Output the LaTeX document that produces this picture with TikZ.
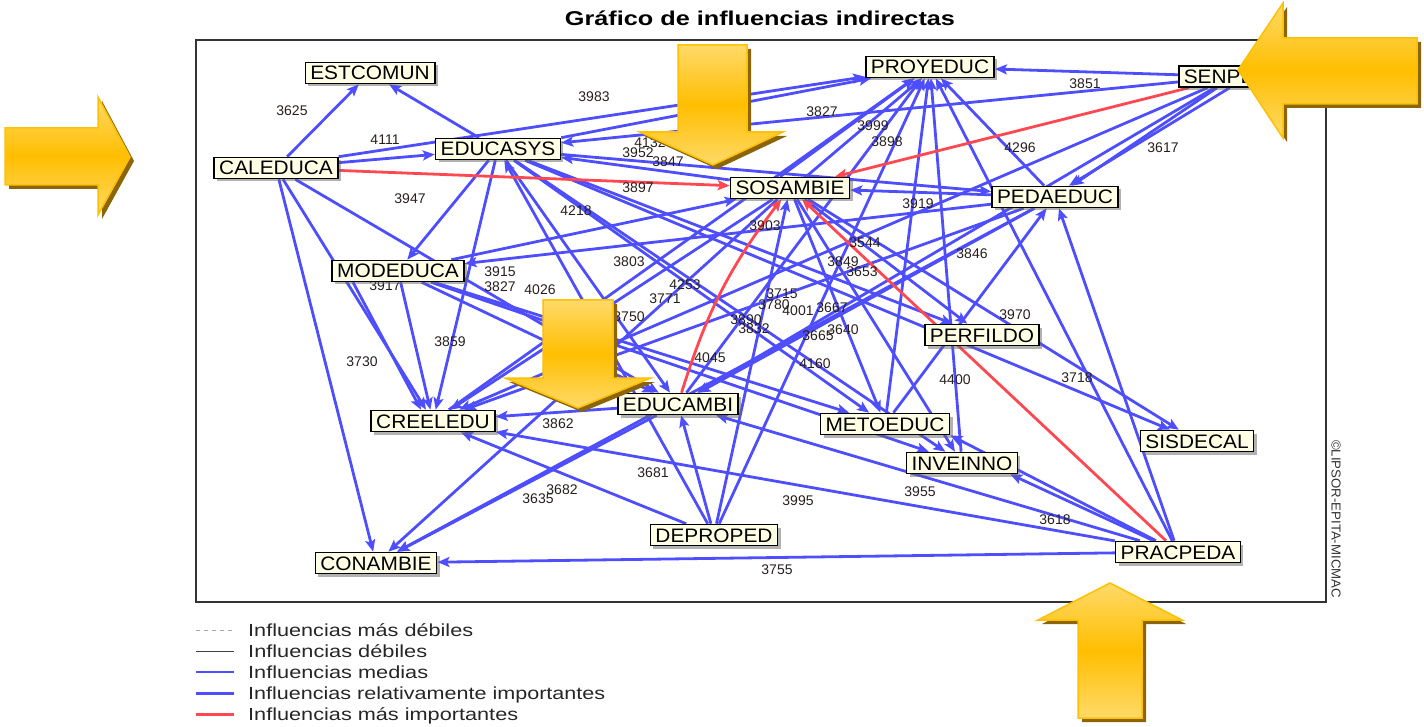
\documentclass[tikz,border=0pt]{standalone}
\usepackage{fontspec}
\setmainfont{Liberation Sans}
\usetikzlibrary{arrows.meta,shadows,calc}
\definecolor{eblue}{RGB}{78,78,255}
\definecolor{ered}{RGB}{255,72,82}
\definecolor{ncream}{RGB}{255,255,230}
\definecolor{arrlight}{RGB}{255,218,105}
\definecolor{arrmid}{RGB}{255,190,0}
\definecolor{arredge}{RGB}{255,192,0}
\definecolor{arrshadow}{RGB}{140,100,10}
\definecolor{labcol}{RGB}{40,30,30}
\newcommand\nodetxt[1]{\scalebox{1.07}[1]{#1}}
\pgfdeclarelayer{back}
\pgfdeclarelayer{front}
\pgfsetlayers{back,main,front}
\tikzset{
 var/.style={draw=black, line width=1.6pt, fill=ncream, font=\fontsize{19.5}{20}\selectfont,
   inner xsep=5pt, inner ysep=3.5pt, text height=14pt, text depth=0pt,
   drop shadow={shadow xshift=3pt, shadow yshift=-3pt, fill=black!60}},
 lab/.style={font=\fontsize{14}{14}\selectfont, inner sep=0pt, text=labcol},
 inf/.style={draw=eblue, line width=2.8pt, -{Stealth[length=12pt,width=10pt,inset=2.5pt]}},
 strong/.style={inf, draw=ered},
 bigarrow/.style={top color=arrlight, bottom color=arrlight, middle color=arrmid, draw=arredge, line width=1.5pt, line join=miter},
 bigshadow/.style={fill=arrshadow, shift={(4,4)}},
 legtxt/.style={font=\fontsize{17.5}{18}\selectfont, text=black!85, anchor=base west, inner sep=0pt}
}
\begin{document}
\begin{tikzpicture}[x=1pt,y=-1pt]
\useasboundingbox (0,0) rectangle (1424,727);

% title and frame
\node[font=\fontsize{20}{22}\selectfont\bfseries, anchor=base, inner sep=0pt] (title) at (760,26)
  {\resizebox{390pt}{\height}{Gráfico de influencias indirectas}};
\draw[line width=1.5pt, black!80] (196,40) rectangle (1326,602);
\node[font=\fontsize{13}{13}\selectfont, rotate=-90, inner sep=0pt, text=black!80] (copy) at (1336,519)
  {\resizebox{158pt}{\height}{©LIPSOR-EPITA-MICMAC}};

% variables
\node[var] (est) at (370,73) {\nodetxt{ESTCOMUN}};
\node[var] (cal) at (276,168) {\nodetxt{CALEDUCA}};
\node[var] (esy) at (498,149) {\nodetxt{EDUCASYS}};
\node[var] (pro) at (930,67) {\nodetxt{PROYEDUC}};
\node[var] (sos) at (790,188) {\nodetxt{SOSAMBIE}};
\node[var, anchor=west] (sen) at (1178,76.5) {\nodetxt{SENPEDA}};
\node[var] (ped) at (1055,197) {\nodetxt{PEDAEDUC}};
\node[var] (mod) at (398,271) {\nodetxt{MODEDUCA}};
\node[var] (cre) at (433,421) {\nodetxt{CREELEDU}};
\node[var] (eca) at (678,404) {\nodetxt{EDUCAMBI}};
\node[var] (met) at (885,424) {\nodetxt{METOEDUC}};
\node[var] (per) at (982,335) {\nodetxt{PERFILDO}};
\node[var] (inv) at (962,463) {\nodetxt{INVEINNO}};
\node[var] (sis) at (1197,441) {\nodetxt{SISDECAL}};
\node[var] (dep) at (714,535) {\nodetxt{DEPROPED}};
\node[var] (pra) at (1178,552) {\nodetxt{PRACPEDA}};
\node[var] (con) at (376,563) {\nodetxt{CONAMBIE}};

\begin{pgfonlayer}{back}
% influences
\draw[inf] (cal) -- (est);
\draw[inf] (esy) -- (est);
\draw[inf] (cal) -- (esy);
\draw[inf] (cal.north east) -- (pro);
\draw[inf] (cal) -- (con);
\draw[inf] (cal) -- (cre);
\draw[inf] (cal) -- (eca);
\draw[inf] (esy.north east) -- (pro);
\draw[inf] (sen) -- (esy);
\draw[inf] (sen) -- (pro);
\draw[inf] (sen) -- (ped);
\draw[inf] ([xshift=-4pt]sen.south) -- ([xshift=14pt]ped.north);
\draw[inf] (sen) -- (cre);
\draw[inf] (sen) -- (eca);
\draw[inf] (sos) -- (esy);
\draw[inf] (esy) -- (ped);
\draw[inf] ([xshift=-10pt]sos.north) -- (pro);
\draw[inf] ([xshift=16pt]sos.north) -- ([xshift=-8pt]pro.south);
\draw[inf] (ped) -- (pro);
\draw[inf] (ped) -- (sos);
\draw[inf] (met) -- (pro);
\draw[inf] (eca) -- (pro);
\draw[inf] (pra) -- (pro);
\draw[inf] (pra) -- (ped);
\draw[inf] (pra) -- (con);
\draw[inf] (pra) -- ([xshift=-8pt]inv.south east);
\draw[inf] (pra) -- (cre);
\draw[inf] (pra) -- (eca);
\draw[inf] (pra) -- (met.south east);
\draw[inf] (esy) -- (sis);
\draw[inf] (sos) -- (sis);
\draw[inf] (dep) -- (esy);
\draw[inf] (dep) -- (eca);
\draw[inf] (dep) -- (sos);
\draw[inf] (dep) -- (pro);
\draw[inf] (dep) -- (cre);
\draw[inf] (eca) -- (cre);
\draw[inf] (eca) -- (con);
\draw[inf] (sos) -- (con);
\draw[inf] (ped) -- (con);
\draw[inf] (ped) -- (cre);
\draw[inf] (sos) -- (cre);
\draw[inf] (ped) -- (eca);
\draw[inf] (mod) -- (cre);
\draw[inf] ([xshift=-45pt]mod.south) -- ([xshift=-12pt]cre.north);
\draw[inf] (mod) -- (sos);
\draw[inf] (mod) -- (eca);
\draw[inf] (esy) -- (mod);
\draw[inf] (esy) -- (cre);
\draw[inf] (esy) -- (eca);
\draw[inf] (esy) -- (met);
\draw[inf] (esy) -- (inv);
\draw[inf] (esy) -- (per);
\draw[inf] (sos) -- (per);
\draw[inf] (sos) -- (inv);
\draw[inf] (sos) -- (met);
\draw[inf] (met) -- (ped);
\draw[inf] (inv) -- (pro);
\draw[inf] (cre) -- (pro);
\draw[inf] (mod) -- (met);
\draw[inf] (mod) -- (inv);
\draw[inf] (ped) -- (mod);
% most important influences
\draw[strong] (cal) -- (sos);
\draw[strong] (sen) -- (sos);
\draw[strong] (pra) -- (sos);
\draw[strong] (eca) to[bend left=10] (sos);
% values
\foreach \t/\x/\y [count=\i] in {3625/292/111, 4111/385/140, 3983/594/97, 3827/822/112,
  3999/873/126, 3898/887/142, 4132/650/143, 3952/638/153, 3847/668/162, 3897/638/188,
  4296/1020/148, 3617/1163/148, 3851/1085/84, 3947/410/199, 4218/576/211, 3919/918/204,
  3903/765/226, 3544/865/243, 3846/972/254, 3849/843/262, 3653/862/272, 3803/629/262,
  3915/500/272, 3827/500/287, 4026/540/290, 3917/385/286, 4253/685/285, 3771/665/299,
  3750/629/317, 3715/782/294, 3780/774/305, 4001/798/311, 3667/832/308, 3890/746/320,
  3832/754/329, 3665/818/336, 3640/843/330, 4045/710/358, 4160/815/364, 3970/1015/315,
  4400/955/380, 3718/1077/378, 3730/362/362, 3859/450/342, 3862/558/424, 3681/653/473,
  3635/538/499, 3682/562/490, 3995/798/501, 3955/920/492, 3618/1055/520, 3755/777/570}
  \node[lab] (v\i) at (\x,\y) {\t};
\end{pgfonlayer}

% legend
\coordinate (l1a) at (196,630); \coordinate (l1b) at (234,630);
\coordinate (l2a) at (196,651); \coordinate (l2b) at (234,651);
\coordinate (l3a) at (196,672); \coordinate (l3b) at (234,672);
\coordinate (l4a) at (196,693); \coordinate (l4b) at (234,693);
\coordinate (l5a) at (196,714); \coordinate (l5b) at (234,714);
\draw[black!35, line width=1pt, dash pattern=on 4pt off 4pt] (l1a) -- (l1b);
\draw[black!75, line width=1pt] (l2a) -- (l2b);
\draw[eblue, line width=1.3pt] (l3a) -- (l3b);
\draw[eblue, line width=3pt] (l4a) -- (l4b);
\draw[ered, line width=3pt] (l5a) -- (l5b);
\node[legtxt] (t1) at (248,636) {\resizebox{225pt}{\height}{Influencias más débiles}};
\node[legtxt] (t2) at (248,657) {\resizebox{179pt}{\height}{Influencias débiles}};
\node[legtxt] (t3) at (248,678) {\resizebox{180pt}{\height}{Influencias medias}};
\node[legtxt] (t4) at (248,699) {\resizebox{357pt}{\height}{Influencias relativamente importantes}};
\node[legtxt] (t5) at (248,720) {\resizebox{270pt}{\height}{Influencias más importantes}};

% highlight arrows
\begin{pgfonlayer}{front}
\fill[bigshadow] (5,128) -- (98,128) -- (98,97) -- (130,157) -- (98,215) -- (98,185) -- (5,185) -- cycle;
\path[bigarrow] (5,128) -- (98,128) -- (98,97) -- (130,157) -- (98,215) -- (98,185) -- (5,185) -- cycle;
\fill[bigshadow] (678,45) -- (747,45) -- (747,132) -- (783,132) -- (713,165) -- (640,132) -- (678,132) -- cycle;
\path[bigarrow] (678,45) -- (747,45) -- (747,132) -- (783,132) -- (713,165) -- (640,132) -- (678,132) -- cycle;
\fill[bigshadow] (543,300) -- (613,300) -- (613,378) -- (651,378) -- (578,408) -- (505,378) -- (543,378) -- cycle;
\path[bigarrow] (543,300) -- (613,300) -- (613,378) -- (651,378) -- (578,408) -- (505,378) -- (543,378) -- cycle;
\fill[bigshadow] (1417,38) -- (1283,38) -- (1283,3) -- (1238,70) -- (1283,138) -- (1283,104) -- (1417,104) -- cycle;
\path[bigarrow] (1417,38) -- (1283,38) -- (1283,3) -- (1238,70) -- (1283,138) -- (1283,104) -- (1417,104) -- cycle;
\fill[bigshadow] (1078,718) -- (1078,620) -- (1038,620) -- (1110,583) -- (1182,620) -- (1142,620) -- (1142,718) -- cycle;
\path[bigarrow] (1078,718) -- (1078,620) -- (1038,620) -- (1110,583) -- (1182,620) -- (1142,620) -- (1142,718) -- cycle;
\end{pgfonlayer}
\end{tikzpicture}
\end{document}
